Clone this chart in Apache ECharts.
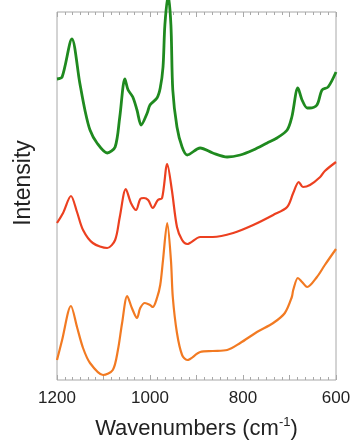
<!DOCTYPE html>
<html><head><meta charset="utf-8">
<script src="https://cdn.jsdelivr.net/npm/echarts@6/dist/echarts.min.js"></script>
<style>html,body{margin:0;padding:0;background:#fff}#c{width:353px;height:440px}</style>
</head><body><div id="c"></div>
<script>
// Wavenumbers (cm-1) and intensities (arbitrary units, stacked offsets as drawn)
var greenW = [1200,1189,1168,1151,1140,1129,1114,1092,1075,1065,1054,1047,1037,1028,1019,1006,1000,985,978,972,968,961,955,951,942,931,920,892,865,834,806,778,748,727,705,695,682,673,662,656,641,630,617,600];
var greenI = [301,303,341,297,270,250,237,227,233,263,301,290,283,270,255,267,275,282,292,313,355,385,355,290,253,233,225,232,227,223,225,230,237,242,250,263,292,280,272,272,275,290,293,308];
var redW = [1200,1187,1170,1157,1144,1123,1092,1075,1065,1052,1041,1030,1021,1013,1004,994,983,974,963,953,942,931,920,892,865,821,778,735,705,692,680,671,656,634,624,600];
var redI = [157,167,184,168,150,137,132,140,163,191,177,170,181,182,180,172,180,182,216,190,153,140,136,143,143,147,155,165,173,187,198,193,195,203,209,218];
var orangeW = [1200,1189,1170,1157,1144,1129,1101,1080,1069,1060,1049,1039,1028,1021,1011,1000,994,985,978,972,963,955,951,942,931,920,892,865,834,806,770,735,710,695,692,682,673,662,641,624,600];
var orangeI = [20,40,74,53,32,17,5,10,30,57,84,72,62,72,77,75,73,82,95,120,157,120,83,47,25,20,28,29,30,37,48,57,67,83,90,102,98,93,103,115,131];
var xTickLabels = [1200,1000,800,600];

function pairs(w, v){ return w.map(function(x,i){ return [x, v[i]]; }); }

var chart = echarts.init(document.getElementById('c'));
var axisCol = '#a8a8a8';
var font = 'Liberation Sans, Arial, sans-serif';
var xCommon = {
  type:'value', min:600, max:1200, interval:100, inverse:true,
  axisLine:{show:false},
  axisTick:{show:true, inside:true, length:5, lineStyle:{color:axisCol}},
  minorTick:{show:true, splitNumber:6, length:3, lineStyle:{color:axisCol}},
  splitLine:{show:false}, minorSplitLine:{show:false}
};
chart.setOption({
  animation:false,
  grid:{left:57, right:17, top:12, bottom:60, show:true, borderColor:axisCol, borderWidth:1, containLabel:false, outerBoundsMode:'none'},
  graphic:[{type:'text', x:24, y:183, rotation:Math.PI/2,
    style:{text:'Intensity', fontSize:23, fill:'#222', font:'23px ' + font, textAlign:'center', textVerticalAlign:'middle'}}],
  xAxis:[
    Object.assign({}, xCommon, {
      position:'bottom',
      axisLabel:{show:true, margin:10, color:'#222', fontSize:17, fontFamily:font,
        formatter:function(v){ return xTickLabels.indexOf(v) >= 0 ? String(v) : ''; }},
      name:'{a|Wavenumbers (cm}{s|-1}{a|)}', nameLocation:'middle', nameGap:36,
      nameTextStyle:{rich:{
        a:{fontSize:22, color:'#222', fontFamily:font},
        s:{fontSize:13, color:'#222', fontFamily:font, verticalAlign:'top', padding:[0,0,12,0]}
      }}
    }),
    Object.assign({}, xCommon, {position:'top', axisLabel:{show:false}})
  ],
  yAxis:{type:'value', min:0, max:368, axisLine:{show:false}, axisTick:{show:false}, axisLabel:{show:false}, splitLine:{show:false}},
  series:[
    {type:'line', data:pairs(greenW, greenI), showSymbol:false, smooth:0.3, clip:false, lineStyle:{color:'#1f8a1f', width:2.8}},
    {type:'line', data:pairs(redW, redI), showSymbol:false, smooth:0.3, lineStyle:{color:'#ec4020', width:2.2}},
    {type:'line', data:pairs(orangeW, orangeI), showSymbol:false, smooth:0.3, lineStyle:{color:'#f27a22', width:2.2}}
  ]
});
</script></body></html>
